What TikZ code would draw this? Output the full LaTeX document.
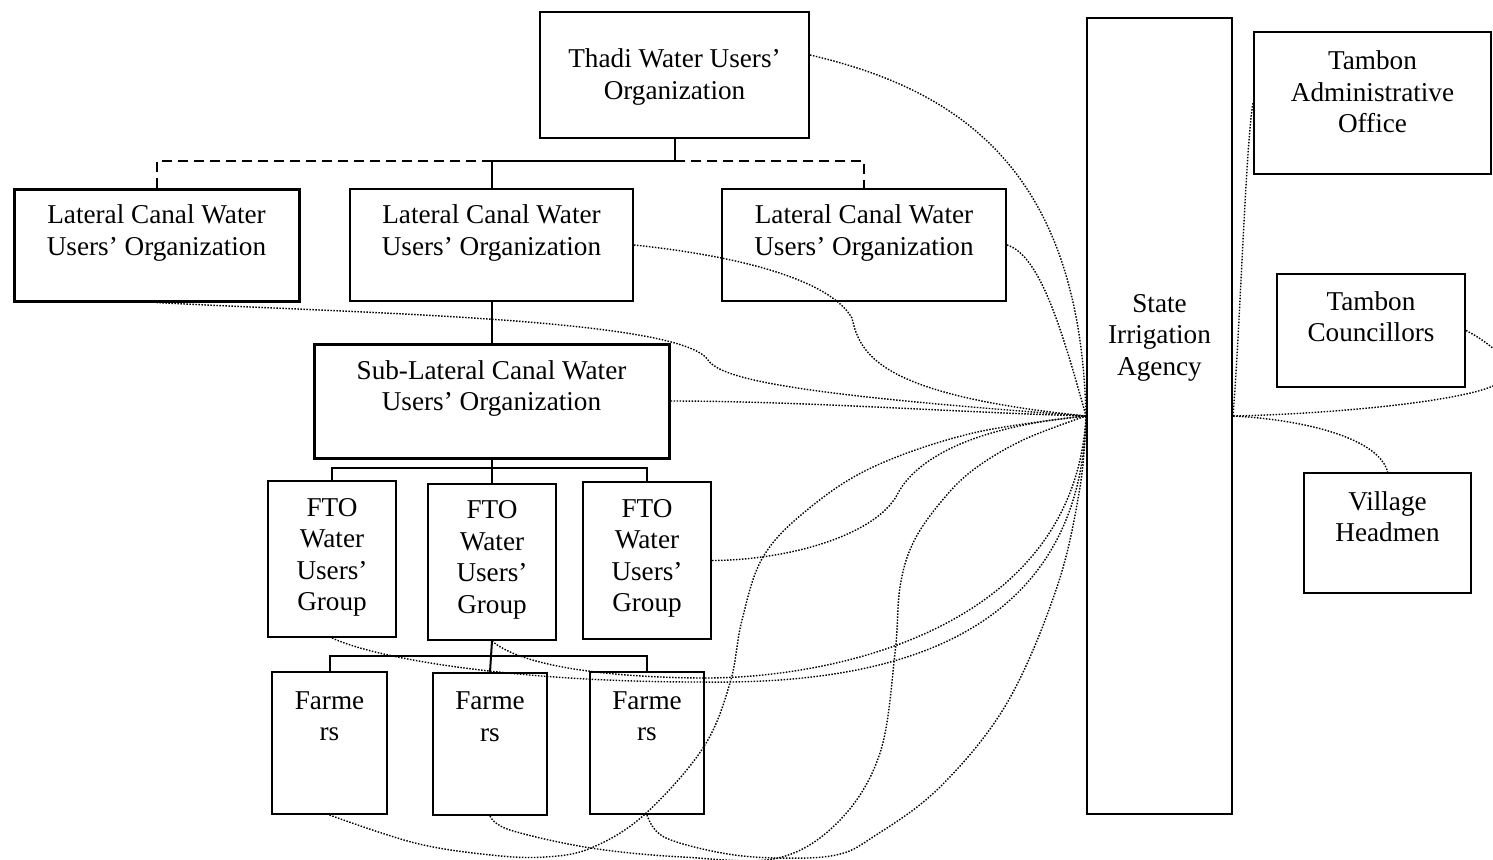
\documentclass[tikz,border=0pt]{standalone}
\usepackage{fontspec}
\setmainfont{Liberation Serif}
\usetikzlibrary{fit,calc}
\begin{document}
\begin{tikzpicture}[x=0.5pt,y=-0.5pt,
  box/.style={draw, line width=1pt, inner sep=0pt},
  thickbox/.style={box, line width=1.5pt},
  lbl/.style={inner sep=0pt, align=center, font=\fontsize{13.6}{15.75}\selectfont},
  link/.style={line width=1pt},
  dashlink/.style={line width=1pt, dash pattern=on 5pt off 3pt},
  tie/.style={line width=0.7pt, dash pattern=on 0.75pt off 0.75pt}]
\useasboundingbox (0,0) rectangle (1493,859);

% ---- organisation boxes ----
\node[box, fit={(540,12) (809,138)}] (thadi) {};
\node[lbl] (thadi-t) at (674.5,77) {Thadi Water Users’\\Organization};

\node[thickbox, fit={(14,189) (299,301)}] (lat1) {};
\node[lbl] (lat1-t) at (156.5,233) {Lateral Canal Water\\Users’ Organization};
\node[box, fit={(350,189) (633,301)}] (lat2) {};
\node[lbl] (lat2-t) at (491.5,233) {Lateral Canal Water\\Users’ Organization};
\node[box, fit={(722,189) (1006,301)}] (lat3) {};
\node[lbl] (lat3-t) at (864,233) {Lateral Canal Water\\Users’ Organization};

\node[thickbox, fit={(314,344) (669,458)}] (sub) {};
\node[lbl] (sub-t) at (491.5,388.5) {Sub-Lateral Canal Water\\Users’ Organization};

\node[box, fit={(268,481) (396,637)}] (fto1) {};
\node[lbl] (fto1-t) at (332,557.5) {FTO\\Water\\Users’\\Group};
\node[box, fit={(428,484) (556,640)}] (fto2) {};
\node[lbl] (fto2-t) at (492,560) {FTO\\Water\\Users’\\Group};
\node[box, fit={(583,482) (711,639)}] (fto3) {};
\node[lbl] (fto3-t) at (647,558.5) {FTO\\Water\\Users’\\Group};

\node[box, fit={(272,672) (387,814)}] (far1) {};
\node[lbl] (far1-t) at (329.5,716) {Farme\\rs};
\node[box, fit={(433,673) (547,815)}] (far2) {};
\node[lbl] (far2-t) at (490,716.5) {Farme\\rs};
\node[box, fit={(590,672) (704,814)}] (far3) {};
\node[lbl] (far3-t) at (647,716) {Farme\\rs};

\node[box, fit={(1087,18) (1232,814)}] (state) {};
\node[lbl] (state-t) at (1159.5,337.5) {State\\Irrigation\\Agency};

\node[box, fit={(1254,32) (1491,174)}] (admin) {};
\node[lbl] (admin-t) at (1372.5,92) {Tambon\\Administrative\\Office};
\node[box, fit={(1277,274) (1465,387)}] (coun) {};
\node[lbl] (coun-t) at (1371,316.5) {Tambon\\Councillors};
\node[box, fit={(1304,473) (1471,593)}] (vill) {};
\node[lbl] (vill-t) at (1387.5,516.5) {Village\\Headmen};

% ---- hierarchy lines ----
\coordinate (tbus) at (0,161);
\draw[link] (thadi.south) -- (thadi.south |- tbus) -- (lat2.north |- tbus) -- (lat2.north);
\draw[dashlink] (thadi.south |- tbus) -- (lat3.north |- tbus) -- (lat3.north);
\draw[dashlink] (lat2.north |- tbus) -- (lat1.north |- tbus) -- (lat1.north);

\draw[link] (lat2.south) -- (sub.north);

\coordinate (sbus) at (0,468);
\draw[link] (sub.south) -- (sub.south |- sbus);
\draw[link] (fto1.north) -- (fto1.north |- sbus) -- (fto3.north |- sbus) -- (fto3.north);
\draw[link] (fto2.north |- sbus) -- (fto2.north);

\coordinate (fbus) at (0,656);
\draw[link] (fto2.south) -- (far2.north);
\draw[link] (far1.north) -- (far1.north |- fbus) -- (far3.north |- fbus) -- (far3.north);

% ---- dotted ties to the State Irrigation Agency ----
\draw[tie] ([yshift=10pt]thadi.east) .. controls (960,90) and (1080,170) .. (state.west);
\draw[tie] (lat3.east) .. controls (1040,255) and (1062,330) .. (state.west);
\draw[tie] (lat2.east) .. controls (740,256) and (830,280) .. (852,318)
                       .. controls (860,355) and (880,395) .. (state.west);
\draw[tie] (lat1.south) .. controls (350,313) and (680,318) .. (708,360)
                        .. controls (722,380) and (800,395) .. (state.west);
\draw[tie] (sub.east) .. controls (800,401) and (950,412) .. (state.west);
\draw[tie] (fto3.east) .. controls (790,560) and (875,535) .. (897,495)
                       .. controls (912,465) and (960,428) .. (state.west);
\draw[tie] (fto1.south) .. controls (380,660) and (520,682) .. (700,682)
                        .. controls (850,684) and (1080,660) .. (state.west);
\draw[tie] (fto2.south) .. controls (520,665) and (600,677) .. (700,678)
                        .. controls (840,679) and (1075,625) .. (state.west);
\draw[tie] plot[smooth, tension=0.6] coordinates {(far1.south) (415,843) (491,855) (545,857)
  (591,848) (644,815) (703,748) (730,683) (742,620) (763,557) (807,510) (873,467) (973,433) (state.west)};
\draw[tie] plot[smooth, tension=0.6] coordinates {(far2.south) (510,830) (591,848) (683,857)
  (778,858) (840,820) (880,753) (895,653) (900,587) (913,543) (940,503) (973,470) (1023,440) (state.west)};
\draw[tie] plot[smooth, tension=0.6] coordinates {(far3.south) (664,837) (722,853) (778,858)
  (836,855) (873,837) (940,787) (1007,703) (1057,587) (1080,487) (state.west)};

% ---- dotted ties on the right-hand side ----
\draw[tie] (state.east) .. controls (1240,330) and (1246,140) .. (admin.west);
\draw[tie] (coun.east) .. controls (1485,340) and (1530,370) .. (1493,386)
                       .. controls (1456,402) and (1330,414) .. (state.east);
\draw[tie] (state.east) .. controls (1310,420) and (1380,440) .. (vill.north);
\end{tikzpicture}
\end{document}
